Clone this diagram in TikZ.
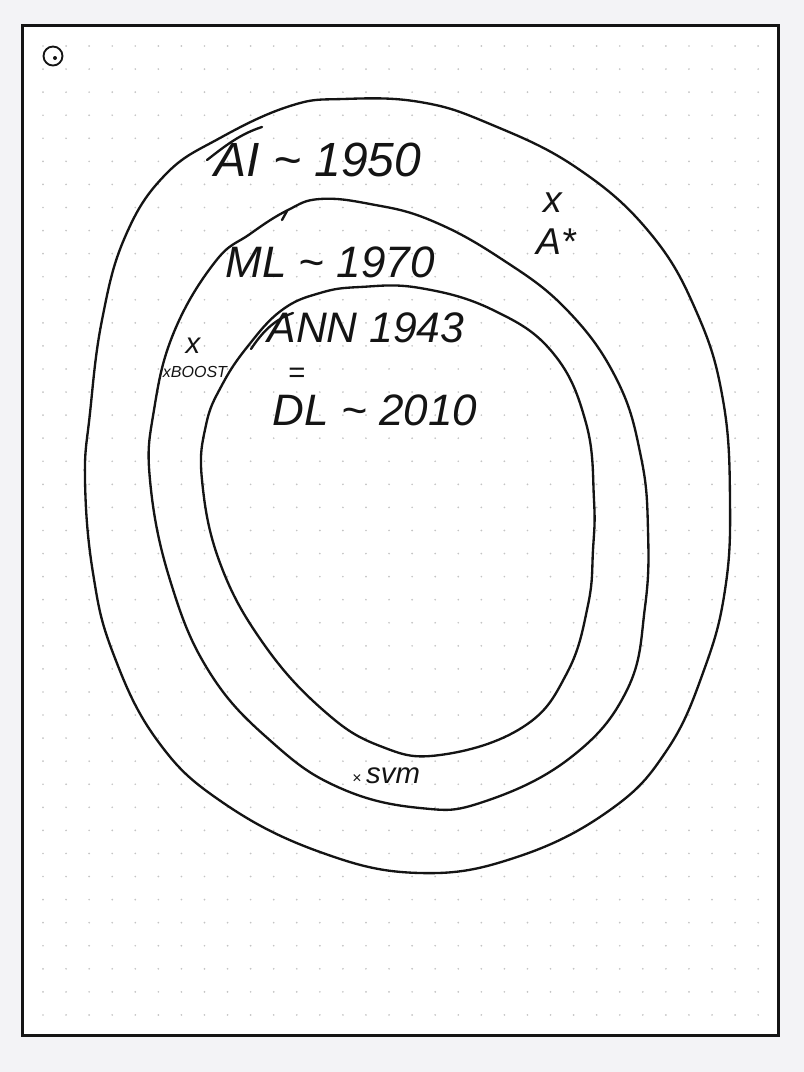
\documentclass[tikz,border=0pt]{standalone}
\usepackage{fontspec}
\setmainfont{Liberation Sans}
\definecolor{inkc}{HTML}{141414}
\definecolor{pagebg}{HTML}{F3F3F6}
\definecolor{dotc}{HTML}{C4C4C4}
\begin{document}
\begin{tikzpicture}[x=0.75pt,y=-0.75pt,
  ink/.style={draw=inkc, line width=1.75pt, line cap=round, line join=round},
  hand/.style={text=inkc, inner sep=0pt, anchor=center}]
\useasboundingbox (0,0) rectangle (804,1072);
\fill[pagebg] (0,0) rectangle (804,1072);
\fill[white] (22.5,25.5) rectangle (778.5,1035.5);
% dot grid
\foreach \i in {0,...,31}{
  \foreach \j in {0,...,42}{
    \fill[dotc] ({43+23.07*\i},{46+23.07*\j}) circle[radius=0.95];
  }
}
\draw[draw=inkc, line width=2.3pt] (22.5,25.5) rectangle (778.5,1035.5);
% icon
\draw[draw=inkc, line width=1.4pt] (53,56) circle[radius=9.5];
\fill[inkc] (55,58) circle[radius=2];
% outer loop (AI)
\draw[ink] plot[smooth cycle, tension=0.7] coordinates {
 (343,99) (420,102) (490,124) (577,168) (650,233) (697,313) (723,400)
 (730,500) (725,590) (704,670) (667,750) (610,810) (517,857) (420,873)
 (320,852) (222,802) (157,740) (113,653) (93,573) (85,480) (90,413)
 (102,320) (125,237) (165,175) (220,138) (290,106)};
\draw[ink] (207,160) .. controls (225,146) and (240,134) .. (262,127);
% middle loop (ML)
\draw[ink] plot[smooth cycle, tension=0.7] coordinates {
 (320,199) (370,204) (430,220) (500,258) (567,310) (617,380) (641,457)
 (648,530) (645,607) (627,690) (570,758) (483,802) (420,808) (340,788)
 (273,743) (210,673) (170,580) (150,480) (154,410) (174,332) (215,262)
 (250,234) (288,210)};
\draw[ink] (282,220) -- (287,211);
% inner loop (ANN / DL)
\draw[ink] plot[smooth cycle, tension=0.7] coordinates {
 (360,287) (420,288) (493,310) (553,353) (586,423) (594,500) (593,550)
 (588,605) (567,673) (523,727) (440,755) (380,746) (323,710) (263,643)
 (220,563) (202,480) (206,425) (222,385) (248,346) (282,310) (320,293)};
\draw[ink] (251,349) .. controls (261,334) and (273,320) .. (293,313);
% labels
\node[hand, font=\fontsize{36}{40}\selectfont\itshape] (ai) at (318,160) {AI \textasciitilde\ 1950};
\node[hand, font=\fontsize{33}{38}\selectfont\itshape] (ml) at (330,262) {ML \textasciitilde\ 1970};
\node[hand, font=\fontsize{32}{36}\selectfont\itshape] (ann) at (366,328) {ANN 1943};
\node[hand, font=\fontsize{22}{26}\selectfont] (eq) at (297,375) {=};
\node[hand, font=\fontsize{33}{38}\selectfont\itshape] (dl) at (375,410) {DL \textasciitilde\ 2010};
\node[hand, font=\fontsize{22}{26}\selectfont\itshape] (bx) at (193,346) {x};
\node[hand, font=\fontsize{12}{14}\selectfont\itshape] (boost) at (195,372) {xBOOST};
\node[hand, font=\fontsize{28}{32}\selectfont\itshape] (ax) at (553,203) {x};
\node[hand, font=\fontsize{28}{32}\selectfont\itshape] (astar) at (556,242) {A*};
\node[hand, font=\fontsize{22}{26}\selectfont\itshape] (svm) at (386,776) {{\fontsize{12}{14}\selectfont×}\,svm};
\end{tikzpicture}
\end{document}
